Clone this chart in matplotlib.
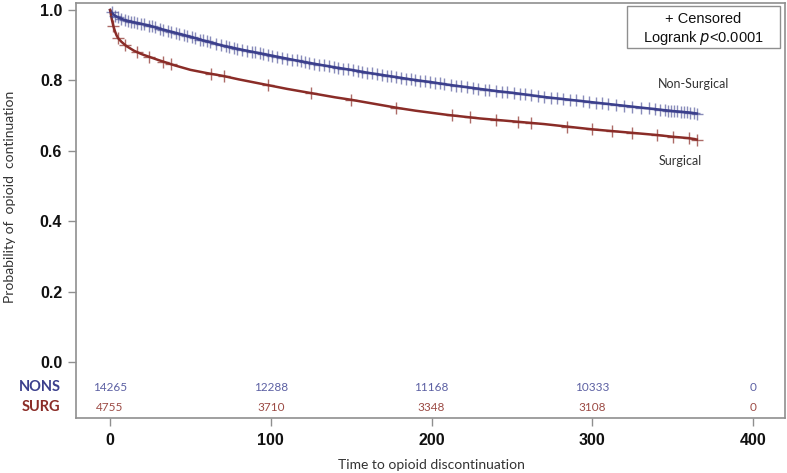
import matplotlib
matplotlib.use("Agg")
import matplotlib.pyplot as plt
from matplotlib.patches import Rectangle
import numpy as np

# ---------------- data ----------------
nons_t = [0, 1, 2, 3, 5, 7, 10, 15, 20, 25, 30, 40, 50, 60, 70, 80, 90, 100, 110, 120,
          130, 140, 150, 160, 170, 180, 190, 200, 210, 220, 230, 240, 250, 260, 270,
          280, 290, 300, 310, 320, 330, 340, 350, 360, 365]
nons_s = [1.0, 0.993, 0.988, 0.984, 0.979, 0.975, 0.970, 0.965, 0.960, 0.955, 0.948,
          0.936, 0.924, 0.911, 0.899, 0.889, 0.880, 0.871, 0.862, 0.853, 0.845, 0.837,
          0.830, 0.822, 0.815, 0.808, 0.801, 0.795, 0.788, 0.782, 0.776, 0.770, 0.765,
          0.759, 0.753, 0.748, 0.743, 0.738, 0.733, 0.728, 0.723, 0.718, 0.713, 0.709, 0.706]

surg_t = [0, 1, 2, 3, 4, 5, 7, 10, 15, 20, 25, 30, 40, 50, 60, 70, 80, 90, 100, 110,
          120, 130, 140, 150, 160, 170, 180, 190, 200, 210, 220, 230, 240, 250, 260,
          270, 280, 290, 300, 310, 320, 330, 340, 350, 360, 365]
surg_s = [1.0, 0.975, 0.955, 0.940, 0.928, 0.920, 0.910, 0.898, 0.884, 0.874, 0.866,
          0.858, 0.843, 0.830, 0.821, 0.813, 0.803, 0.794, 0.785, 0.776, 0.768, 0.760,
          0.752, 0.745, 0.737, 0.729, 0.721, 0.714, 0.708, 0.702, 0.697, 0.692, 0.688,
          0.684, 0.680, 0.676, 0.671, 0.666, 0.661, 0.657, 0.653, 0.649, 0.645, 0.640,
          0.636, 0.632]

nons_cens = [1, 3, 5, 7, 9, 11, 13, 15, 17, 19, 21, 24, 26, 28, 31, 33, 36, 38, 41, 43,
             46, 48, 51, 53, 56, 58, 60, 62, 66, 69, 72, 74, 77, 79, 82, 85, 88, 90, 93,
             95, 98, 101, 104, 107, 110, 113, 116, 119, 121, 124, 127, 130, 133, 136, 139,
             142, 145, 148, 151, 154, 157, 160, 163, 166, 169, 172, 175, 178, 181, 184,
             187, 190, 193, 196, 199, 202, 205, 208, 212, 215, 218, 222, 226, 229, 233,
             236, 240, 244, 247, 251, 255, 258, 262, 266, 270, 274, 278, 282, 286, 290,
             294, 298, 302, 306, 310, 315, 320, 325, 330, 335, 339, 342, 345, 347, 349,
             351, 353, 355, 357, 359, 361, 363, 365]
surg_cens = [2, 5, 9, 17, 24, 33, 38, 63, 71, 98, 125, 150, 178, 213, 224, 240, 254,
             262, 284, 300, 312, 325, 340, 350, 360, 365]

risk_times = [0, 100, 200, 300, 400]
nons_risk = [14265, 12288, 11168, 10333, 0]
surg_risk = [4755, 3710, 3348, 3108, 0]

# ---------------- style ----------------
blue = "#3B3F8C"
red = "#8A2C27"
blue_txt = "#5C60A3"
red_txt = "#9C4B45"
grey = "#8F8F8F"
font = "Lato"
tickfont = "Liberation Sans"

fig = plt.figure(figsize=(7.87, 4.73), dpi=100)
ax = fig.add_axes([0.0966, 0.1163, 0.9009, 0.8774])

ax.plot(nons_t, nons_s, color=blue, lw=1.8, zorder=3)
ax.plot(surg_t, surg_s, color=red, lw=1.8, zorder=3)

def surv_at(times, surv, t):
    return np.interp(t, times, surv)

ax.plot(nons_cens, surv_at(nons_t, nons_s, nons_cens), ls="none", marker="+",
        ms=8, mew=1.0, color=blue, alpha=0.6, zorder=4)
ax.plot(surg_cens, surv_at(surg_t, surg_s, surg_cens), ls="none", marker="+",
        ms=9, mew=1.0, color=red, alpha=0.7, zorder=4)

ax.set_xlim(-21.2, 419.9)
ax.set_ylim(-0.159, 1.02)
ax.set_xticks([0, 100, 200, 300, 400])
ax.set_yticks([0.0, 0.2, 0.4, 0.6, 0.8, 1.0])
ax.set_yticklabels(["0.0", "0.2", "0.4", "0.6", "0.8", "1.0"])
for lab in ax.get_xticklabels() + ax.get_yticklabels():
    lab.set_fontweight("bold")
    lab.set_fontsize(11.5)
    lab.set_fontfamily(tickfont)
    lab.set_color("#111111")
ax.tick_params(axis="both", direction="out", length=6, width=1, color=grey)
ax.tick_params(axis="x", pad=5)
ax.tick_params(axis="y", pad=4)
for sp in ax.spines.values():
    sp.set_color(grey)
    sp.set_linewidth(1.2)

fig.text((110 + 1.6075 * 200) / 787.0, 8 / 473.0, "Time to opioid discontinuation",
         fontsize=10, fontfamily=font, color="#333333", ha="center", va="center")
fig.text(10 / 787.0, 1 - 197 / 473.0, "Probability of  opioid  continuation",
         fontsize=10, fontfamily=font, color="#333333", ha="center", va="center",
         rotation=90)

# number at risk
for t, n in zip(risk_times, nons_risk):
    ax.text(t, -0.071, str(n), ha="center", va="center", fontsize=8.5,
            fontfamily=font, color=blue_txt)
for t, n in zip(risk_times, surg_risk):
    ax.text(t, -0.128, str(n), ha="center", va="center", fontsize=8.5,
            fontfamily=font, color=red_txt)
ax.text(-0.022, -0.071, "NONS", transform=ax.get_yaxis_transform(), ha="right",
        va="center", fontsize=10.5, fontweight="bold", fontfamily=font, color=blue,
        clip_on=False)
ax.text(-0.022, -0.128, "SURG", transform=ax.get_yaxis_transform(), ha="right",
        va="center", fontsize=10.5, fontweight="bold", fontfamily=font, color=red,
        clip_on=False)

# curve labels
ax.text(341, 0.79, "Non-Surgical", fontsize=9, fontfamily=font,
        color="#333333", va="center", ha="left")
ax.text(341, 0.571, "Surgical", fontsize=9, fontfamily=font,
        color="#333333", va="center", ha="left")

# legend box
x0 = (627 - 76) / 709.0
x1 = (780 - 76) / 709.0
y0 = (418 - 48) / 415.0
y1 = (418 - 6) / 415.0
ax.add_patch(Rectangle((x0, y0), x1 - x0, y1 - y0, transform=ax.transAxes,
                       fill=True, facecolor="white", edgecolor=grey, lw=1.0, zorder=5))
xc = (x0 + x1) / 2
ax.text(xc, (418 - 19) / 415.0, "+ Censored", transform=ax.transAxes, ha="center",
        va="center", fontsize=10.5, fontfamily=tickfont, color="#111111", zorder=6)
ax.text(xc, (418 - 38) / 415.0, "Logrank $\\it{p}$<0.0001", transform=ax.transAxes,
        ha="center", va="center", fontsize=10.5, fontfamily=tickfont,
        color="#111111", zorder=6)

fig.savefig("out.png", dpi=100)
